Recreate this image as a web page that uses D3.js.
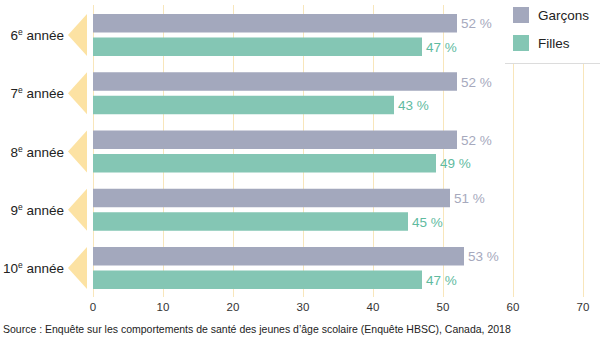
<!DOCTYPE html>
<html><head><meta charset="utf-8">
<script src="https://cdn.jsdelivr.net/npm/d3@7"></script>
<style>body{margin:0;background:#fff}svg{display:block;font-family:"Liberation Sans",Arial,sans-serif}</style>
</head><body><svg id="c" width="600" height="341"></svg>
<script>
const categories = ["6", "7", "8", "9", "10"];
const garcons = [52, 52, 52, 51, 53];
const filles = [47, 43, 49, 45, 47];
const seriesNames = ["Garçons", "Filles"];
const colors = ["#a3a8bd", "#84c6b4"];
const labelColors = ["#a6a9bd", "#5fbb9f"];
const ticks = [0, 10, 20, 30, 40, 50, 60, 70];
const source = "Source : Enquête sur les comportements de santé des jeunes d’âge scolaire (Enquête HBSC), Canada, 2018";

const svg = d3.select("#c");
const x = d3.scaleLinear().domain([0, 70]).range([93, 583]);
const y = d3.scaleBand().domain(categories).range([14, 14 + 5 * 58.25]).paddingInner(0);
const inner = d3.scaleBand().domain(seriesNames).range([0, 42]).paddingInner(5 / 23.5);
const gh = 42;

// gridlines
svg.append("g").selectAll("line").data(ticks).join("line")
  .attr("x1", d => x(d) + 0.5).attr("x2", d => x(d) + 0.5)
  .attr("y1", 5).attr("y2", 297)
  .attr("stroke", "#f8e6bb").attr("stroke-width", 1);

// tick labels
svg.append("g").selectAll("text").data(ticks).join("text")
  .attr("x", d => x(d)).attr("y", 311)
  .attr("text-anchor", "middle").attr("font-size", 11.5).attr("fill", "#333")
  .text(d => d);

const data = categories.map((c, i) => ({ c, vals: [garcons[i], filles[i]] }));

const g = svg.append("g").selectAll("g").data(data).join("g")
  .attr("transform", d => `translate(0,${y(d.c)})`);

// triangles
g.append("path")
  .attr("d", `M87,0 L87,${gh} L68,${gh / 2} Z`)
  .attr("fill", "#fce2a3");

// category labels
const lab = g.append("text")
  .attr("x", 64).attr("y", gh / 2 + 5)
  .attr("text-anchor", "end").attr("font-size", 13.5).attr("fill", "#222");
lab.append("tspan").text(d => d.c);
lab.append("tspan").attr("font-size", 8.5).attr("dy", -5).text("e");
lab.append("tspan").attr("dy", 5).text(" année");

// bars
seriesNames.forEach((s, si) => {
  g.append("rect")
    .attr("x", x(0)).attr("y", inner(s))
    .attr("width", d => x(d.vals[si]) - x(0))
    .attr("height", inner.bandwidth())
    .attr("fill", colors[si]);
  g.append("text")
    .attr("x", d => x(d.vals[si]) + 4)
    .attr("y", inner(s) + inner.bandwidth() / 2 + 5)
    .attr("font-size", 13.5).attr("fill", labelColors[si])
    .text(d => d.vals[si] + " %");
});

// legend
const lg = svg.append("g");
lg.append("rect").attr("x", 505).attr("y", 0).attr("width", 95).attr("height", 63).attr("fill", "#fff");
lg.append("line").attr("x1", 505).attr("x2", 600).attr("y1", 63.5).attr("y2", 63.5).attr("stroke", "#dcdcdc");
seriesNames.forEach((s, i) => {
  lg.append("rect").attr("x", 513).attr("y", 7 + i * 28).attr("width", 16).attr("height", 16).attr("fill", colors[i]);
  lg.append("text").attr("x", 538).attr("y", 20 + i * 28).attr("font-size", 13.5).attr("fill", "#222").text(s);
});

// source
svg.append("text").attr("x", 3).attr("y", 333).attr("font-size", 10.5).attr("fill", "#222").text(source);
</script></body></html>
